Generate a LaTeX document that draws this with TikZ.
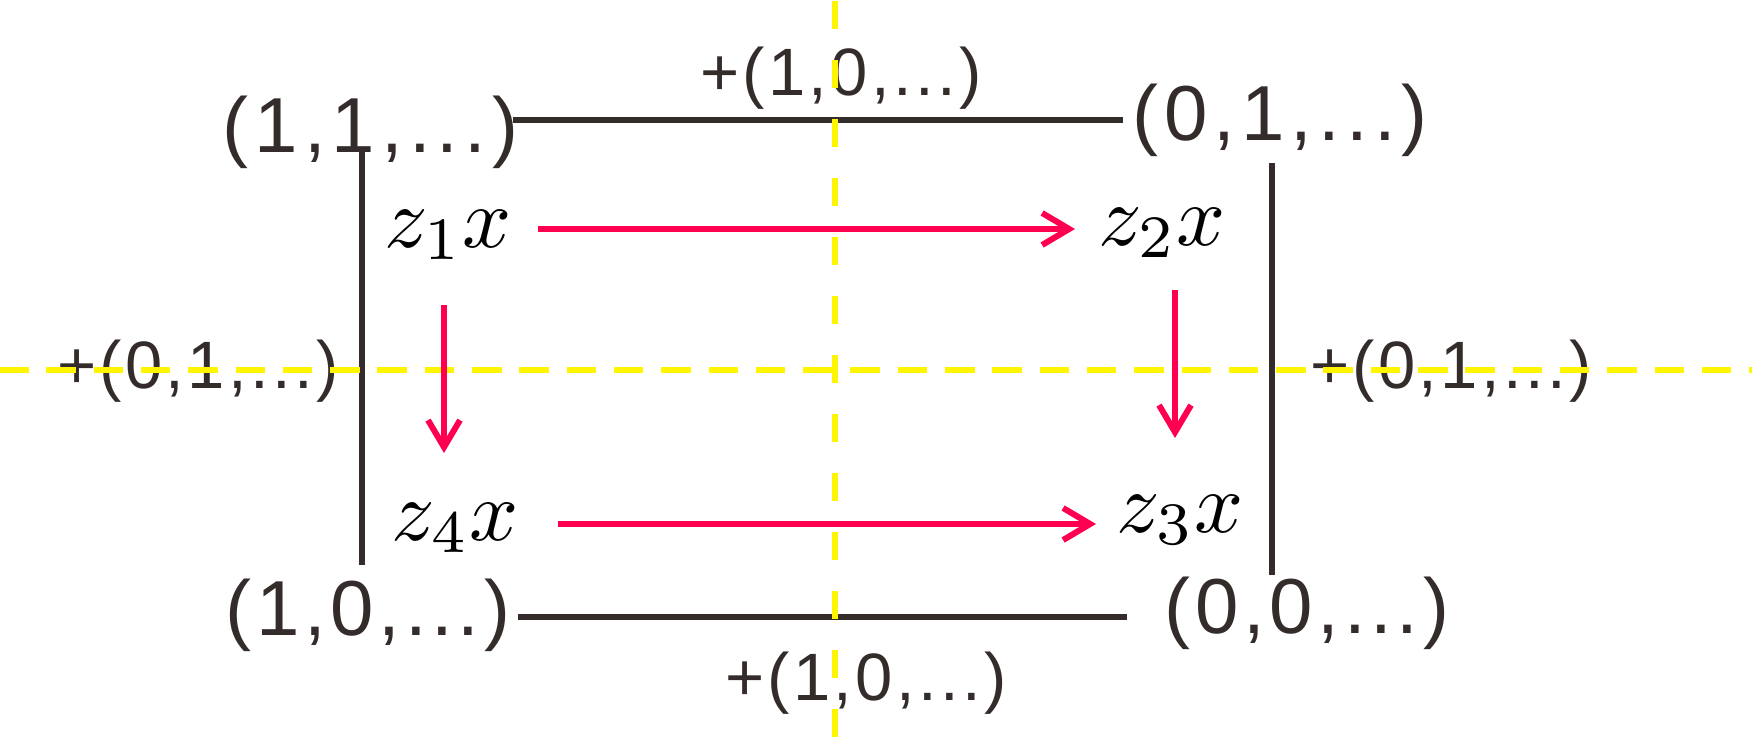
\documentclass[tikz,border=0pt]{standalone}
\usepackage{fontspec}
\usetikzlibrary{arrows.meta}
\newfontfamily\labfont{Liberation Sans}
\definecolor{ink}{RGB}{51,44,42}
\definecolor{pinkred}{RGB}{255,0,80}
\definecolor{guide}{RGB}{255,245,0}
\newcommand{\zlab}[1]{\scalebox{8.6}{$z_{#1}x$}}
\begin{document}
\begin{tikzpicture}[x=1pt,y=-1pt,
  corner/.style={inner sep=0pt, anchor=base, text=ink,
    font=\fontsize{78}{80}\labfont\addfontfeature{LetterSpace=7.8}},
  cornerlow/.style={inner sep=0pt, anchor=base, text=ink,
    font=\fontsize{78}{80}\labfont\addfontfeature{LetterSpace=6}},
  shiftlab/.style={inner sep=0pt, anchor=base, text=ink,
    font=\fontsize{67}{70}\labfont\addfontfeature{LetterSpace=5}},
  mathlab/.style={inner sep=0pt, anchor=base, text=black},
  edgeline/.style={draw=ink, line width=5.5pt},
  guideline/.style={draw=guide, line width=6pt},
  maparrow/.style={draw=pinkred, line width=6pt,
    -{Straight Barb[length=27pt,width=32pt]}}]
\useasboundingbox (0,0) rectangle (1752,739);

% corner labels
\node[corner] (n11) at (370.5,152) {(1,1,...)};
\node[corner] (n01) at (1280,140) {(0,1,...)};
\node[cornerlow] (n10) at (368,635) {(1,0,...)};
\node[cornerlow] (n00) at (1307,633) {(0,0,...)};

% shift labels
\node[shiftlab] (stop) at (841,95) {+(1,0,...)};
\node[shiftlab] (sbot) at (866,700) {+(1,0,...)};
\node[shiftlab] (sleft) at (198,388) {+(0,1,...)};
\node[shiftlab] (sright) at (1451,388) {+(0,1,...)};

% math labels
\node[mathlab] (z1) at (448,247) {\zlab{1}};
\node[mathlab] (z2) at (1162,245) {\zlab{2}};
\node[mathlab] (z4) at (455,540) {\zlab{4}};
\node[mathlab] (z3) at (1180,532) {\zlab{3}};

% edge end points
\coordinate (topL) at (513,120);
\coordinate (topR) at (1123,120);
\coordinate (botL) at (518,617);
\coordinate (botR) at (1127,617);
\coordinate (leftT) at (362,152);
\coordinate (leftB) at (362,565);
\coordinate (rightT) at (1272,163);
\coordinate (rightB) at (1272,575);

\draw[edgeline] (topL) -- (topR);
\draw[edgeline] (botL) -- (botR);
\draw[edgeline] (leftT) -- (leftB);
\draw[edgeline] (rightT) -- (rightB);

% guide lines
\coordinate (gl) at (0,370);
\coordinate (gr) at (1752,370);
\coordinate (gt) at (835,1);
\coordinate (gb) at (835,739);
\draw[guideline, dash pattern=on 29.5pt off 17.8pt, dash phase=1pt] (gl) -- (gr);
\draw[guideline, dash pattern=on 28pt off 31pt] (gt) -- (gb);

% arrows
\coordinate (a1s) at (538,229);
\coordinate (a1e) at (1075,229);
\coordinate (a2s) at (558,524);
\coordinate (a2e) at (1096,524);
\coordinate (a3s) at (444,305);
\coordinate (a3e) at (444,453);
\coordinate (a4s) at (1175,290);
\coordinate (a4e) at (1175,438);
\draw[maparrow] (a1s) -- (a1e);
\draw[maparrow] (a2s) -- (a2e);
\draw[maparrow] (a3s) -- (a3e);
\draw[maparrow] (a4s) -- (a4e);
\end{tikzpicture}
\end{document}
